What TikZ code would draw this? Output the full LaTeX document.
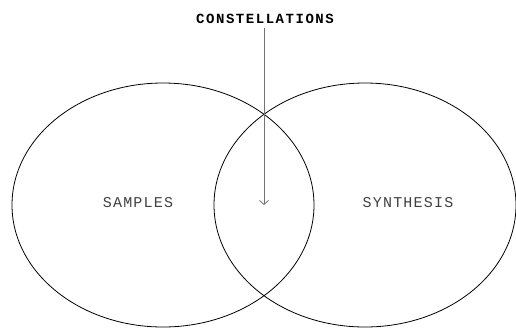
\documentclass[tikz,border=0pt]{standalone}
\usepackage{fontspec}
\setmonofont{Liberation Mono}
\newfontfamily\lblfont[LetterSpace=8]{Liberation Mono}
\newfontfamily\ttlfont[LetterSpace=11]{Liberation Mono}
\usetikzlibrary{shapes.geometric,arrows.meta}
\tikzset{
  venn/.style={draw=black, line width=0.8pt, ellipse, inner sep=0pt, minimum width=302pt, minimum height=244pt},
  lbl/.style={font=\lblfont\fontsize{15}{17}\selectfont, text=black!75},
  ttl/.style={font=\ttlfont\bfseries\fontsize{14}{16}\selectfont, text=black},
  pointer/.style={draw=black!55, line width=0.8pt, -{Straight Barb[length=4pt,width=9pt]}}
}
\begin{document}
\begin{tikzpicture}[x=1pt,y=1pt]
\useasboundingbox (0,0) rectangle (516,-327);
\clip (0,0) rectangle (516,-327);
\node[venn] (left) at (163,-205) {};
\node[venn] (right) at (365,-205) {};
\node[lbl] (samples) at (138,-203) {SAMPLES};
\node[lbl] (synth) at (408,-203) {SYNTHESIS};
\node[ttl, inner sep=1pt] (title) at (265,-19) {CONSTELLATIONS};
\coordinate (tip) at (264,-205);
\draw[pointer] (title.south -| tip) ++(0,-3) -- (tip);
\end{tikzpicture}
\end{document}
